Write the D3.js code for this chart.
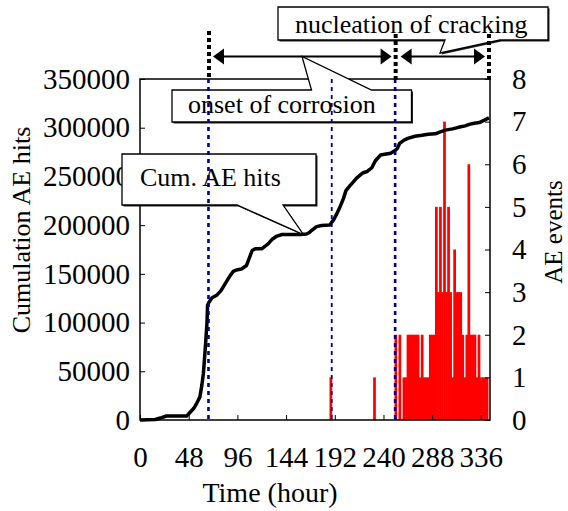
<!DOCTYPE html>
<html><head><meta charset="utf-8">
<script src="https://cdn.jsdelivr.net/npm/d3@7"></script>
<style>
html,body{margin:0;padding:0;background:#fff;}
svg{display:block;font-family:"Liberation Serif","Times New Roman",Times,serif;}
</style></head>
<body><svg id="c" width="568" height="511"></svg>
<script>
// ---- data ----
const lineHours = [0,15,20,26,46,49,53,56,59,61,62.5,64,66,66.6,68,71,76,80,84,89,92,95,100,105,108,110.5,113.5,120,123,126.5,130,135,140,158,164,167,169,174,179,187,191,194,197,200.5,203,207,214,220,224,228.5,232,237,247,251,253.5,256,260,264,271,278,284,291,296,301,308,314,320.5,324.5,329.5,334.5,339,344];
const cumHits = [0,500,2000,4100,4100,7500,12000,17400,23500,35800,48100,68600,99300,117700,120800,125400,128400,133000,139900,148400,152500,154000,155000,158600,166800,174000,175700,175700,178100,181100,185200,188800,190400,190400,190900,192400,194400,198500,199600,200100,205700,211800,218300,227200,235400,240500,248700,253800,255100,258900,266100,271900,273800,276300,278400,284000,287100,289100,291200,292200,293200,293700,295800,297500,298800,300400,301900,303400,304500,305300,307500,310100];
const barHours = [187,230,251,255,259,261,263,265,267,269,271,273,275,277,279,281,283,285,287,289,291,293,295,297,299,301,303,305,307,309,311,313,315,317,319,321,323,325,327,329,331,333,335,337,339,341];
const aeEvents = [1,1,2,2,1,1,2,2,2,2,2,2,1,2,1,1,1,2,2,2,5,3,5,3,7,3,5,3,1,4,3,3,3,2,1,2,6,2,2,2,1,2,1,1,1,1];
const binWidth = 2; // hours per bar
const xTicks = [0,48,96,144,192,240,288,336];
const yLeftTicks = [0,50000,100000,150000,200000,250000,300000,350000];
const yRightTicks = [0,1,2,3,4,5,6,7,8];
const eventLineHours = [67.5,189,251.5];   // navy dotted lines
const stageHours = [68,252,344];           // black dotted markers above plot
const labels = {
  x:"Time (hour)", yl:"Cumulation AE hits", yr:"AE events",
  cum:"Cum. AE hits", onset:"onset of corrosion", nucl:"nucleation of cracking"
};

// ---- layout ----
const L=140,R=490,T=79,B=420;
const svg=d3.select("#c");
const x=d3.scaleLinear().domain([0,345]).range([L,R]);
const yL=d3.scaleLinear().domain([0,350000]).range([B,T]);
const yR=d3.scaleLinear().domain([0,8]).range([B,T]);
const FS=26, TFS=29;
const FF='"Liberation Serif","Times New Roman",Times,serif';

// bars
svg.append("g").selectAll("rect").data(barHours.map((h,i)=>({h,v:aeEvents[i]}))).join("rect")
  .attr("x",d=>x(d.h)-0.2).attr("width",d=>x(d.h+binWidth)-x(d.h)+0.7)
  .attr("y",d=>yR(d.v)).attr("height",d=>yR(0)-yR(d.v)).attr("fill","#ff0000");

// axes
const fmt=d3.format("d");
const gl=svg.append("g").attr("transform",`translate(${L},0)`)
  .call(d3.axisLeft(yL).tickValues(yLeftTicks).tickFormat(fmt).tickSizeInner(-5).tickSizeOuter(0).tickPadding(10));
const gr=svg.append("g").attr("transform",`translate(${R},0)`)
  .call(d3.axisRight(yR).tickValues(yRightTicks).tickFormat(fmt).tickSizeInner(-5).tickSizeOuter(0).tickPadding(22));
const gb=svg.append("g").attr("transform",`translate(0,${B})`)
  .call(d3.axisBottom(x).tickValues(xTicks).tickFormat(fmt).tickSizeInner(-5).tickSizeOuter(0).tickPadding(26));
[gl,gr,gb].forEach(g=>{
  g.attr("font-family",FF);
  g.select(".domain").remove();
  g.selectAll(".tick line").attr("stroke","#000").attr("stroke-width",1);
  g.selectAll(".tick text").attr("font-size",TFS).attr("font-family",FF).attr("fill","#000");
});
// frame
svg.append("rect").attr("x",L).attr("y",T).attr("width",R-L).attr("height",B-T)
  .attr("fill","none").attr("stroke","#000").attr("stroke-width",1.5);

// cumulative line
svg.append("path").datum(lineHours.map((h,i)=>[h,cumHits[i]]))
  .attr("d",d3.line().x(d=>x(d[0])).y(d=>yL(d[1])))
  .attr("fill","none").attr("stroke","#000").attr("stroke-width",3.5).attr("stroke-linejoin","round");

// callouts
function callout(pts){
  const p="M"+pts.map(q=>q.join(",")).join("L")+"Z";
  svg.append("path").attr("d",p).attr("transform","translate(1.5,1.5)").attr("fill","#222");
  svg.append("path").attr("d",p).attr("fill","#fff").attr("stroke","#000").attr("stroke-width",1.3);
}
const apexCum=[x(161),yL(190400)];
callout([[122,154],[316,154],[316,205],[283,205],apexCum,[237,205],[122,205]]);
svg.append("text").attr("x",140).attr("y",186).attr("font-size",FS).attr("font-family",FF).text(labels.cum);

const arrowY=56.5;
callout([[172,90],[311.5,90],[302,arrowY],[371.5,90],[411.5,90],[411.5,122],[172,122]]);
svg.append("text").attr("x",188).attr("y",113).attr("font-size",FS).attr("font-family",FF).text(labels.onset);

callout([[278,7],[548,7],[548,40],[500,40],[440,53],[445,40],[278,40]]);
svg.append("text").attr("x",295).attr("y",33).attr("font-size",FS).attr("font-family",FF).text(labels.nucl);

// navy dotted event lines
eventLineHours.forEach((h,i)=>{
  svg.append("line").attr("x1",x(h)).attr("x2",x(h)).attr("y1",T).attr("y2",B)
    .attr("stroke","#000080").attr("stroke-width",i===1?1.8:2.6).attr("stroke-dasharray","4,4");
});
// black dotted stage markers above plot
stageHours.forEach((h,i)=>{
  svg.append("line").attr("x1",x(h)).attr("x2",x(h)).attr("y1",i===0?31:34).attr("y2",T+1)
    .attr("stroke","#000").attr("stroke-width",4).attr("stroke-dasharray","4,3");
});
// double arrows
function arrowHead(tx,ty,dir){
  const len=11,hw=8;
  svg.append("path").attr("d",`M${tx},${ty}L${tx-dir*len},${ty-hw}L${tx-dir*len},${ty+hw}Z`).attr("fill","#000");
}
function dblArrow(x1,x2){
  svg.append("line").attr("x1",x1+5).attr("x2",x2-5).attr("y1",arrowY).attr("y2",arrowY).attr("stroke","#000").attr("stroke-width",2);
  arrowHead(x1,arrowY,-1); arrowHead(x2,arrowY,1);
}
dblArrow(x(stageHours[0])+4,x(stageHours[1])-4);
dblArrow(x(stageHours[1])+5,x(stageHours[2])-4);

// axis titles
svg.append("text").attr("transform","translate(30,230)rotate(-90)").attr("text-anchor","middle").attr("font-size",FS).attr("font-family",FF).text(labels.yl);
svg.append("text").attr("transform","translate(562,232)rotate(-90)").attr("text-anchor","middle").attr("font-size",25).attr("font-family",FF).text(labels.yr);
svg.append("text").attr("x",270).attr("y",502).attr("text-anchor","middle").attr("font-size",28).attr("font-family",FF).text(labels.x);
</script></body></html>
